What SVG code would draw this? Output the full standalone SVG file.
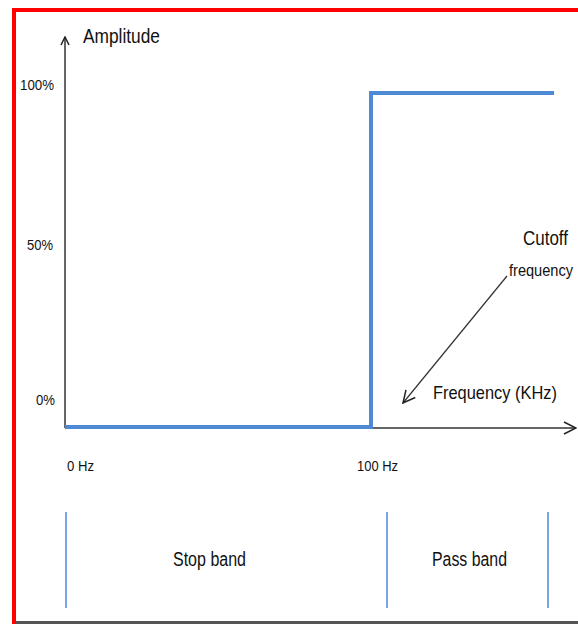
<svg xmlns="http://www.w3.org/2000/svg" width="578" height="624" viewBox="0 0 578 624">
<style>
text{font-family:"Liberation Sans",Arial,sans-serif;fill:#111}
.s{font-size:15px}
.m{font-size:20px}
.ax{stroke:#333;stroke-width:1.5;fill:none}
.blue{stroke:#4f88d4;fill:none}
</style>
<defs>
<marker id="ah" viewBox="0 0 10 10" refX="9" refY="5" markerWidth="10" markerHeight="10" markerUnits="userSpaceOnUse" orient="auto">
<path d="M1,1 L9,5 L1,9" fill="none" stroke="#222" stroke-width="1.5"/>
</marker>
<marker id="ah2" viewBox="0 0 14 14" refX="13" refY="7" markerWidth="14" markerHeight="14" markerUnits="userSpaceOnUse" orient="auto">
<path d="M1,1 L13,7 L1,13" fill="none" stroke="#222" stroke-width="1.5"/>
</marker>
</defs>
<rect width="578" height="624" fill="#fff"/>
<g id="frame">
<rect x="12" y="8" width="566" height="4" fill="#f00"/>
<rect x="12" y="8" width="4" height="616" fill="#f00"/>
<rect x="16" y="621" width="562" height="3" fill="#555"/>
</g>
<g id="connectors">
<line class="ax" x1="65" y1="428" x2="65" y2="37" marker-end="url(#ah)"/>
<line class="ax" x1="65" y1="428" x2="576" y2="428" marker-end="url(#ah2)"/>
<line x1="507" y1="276" x2="403" y2="403" stroke="#333" stroke-width="1.2" marker-end="url(#ah2)"/>
</g>
<g id="response">
<polyline class="blue" stroke-width="4" points="65,427 371,427 371,93 554,93"/>
</g>
<g id="bands">
<line class="blue" stroke-width="1.5" x1="66" y1="512" x2="66" y2="608"/>
<line class="blue" stroke-width="1.5" x1="387" y1="512" x2="387" y2="608"/>
<line class="blue" stroke-width="1.5" x1="548" y1="512" x2="548" y2="608"/>
</g>
<g id="labels">
<text class="m" x="83" y="43" textLength="77" lengthAdjust="spacingAndGlyphs">Amplitude</text>
<text class="s" x="20" y="90" textLength="34" lengthAdjust="spacingAndGlyphs">100%</text>
<text class="s" x="27" y="250" textLength="26" lengthAdjust="spacingAndGlyphs">50%</text>
<text class="s" x="36" y="405" textLength="19" lengthAdjust="spacingAndGlyphs">0%</text>
<text class="s" x="67" y="471" textLength="27" lengthAdjust="spacingAndGlyphs">0 Hz</text>
<text class="s" x="357" y="471" textLength="41" lengthAdjust="spacingAndGlyphs">100 Hz</text>
<text class="m" x="523" y="245" textLength="45" lengthAdjust="spacingAndGlyphs">Cutoff</text>
<text x="509" y="276" font-size="16" textLength="64" lengthAdjust="spacingAndGlyphs">frequency</text>
<text x="433" y="399" font-size="19" textLength="124" lengthAdjust="spacingAndGlyphs">Frequency (KHz)</text>
<text class="m" x="173" y="566" textLength="73" lengthAdjust="spacingAndGlyphs">Stop band</text>
<text class="m" x="432" y="566" textLength="75" lengthAdjust="spacingAndGlyphs">Pass band</text>
</g>
</svg>
